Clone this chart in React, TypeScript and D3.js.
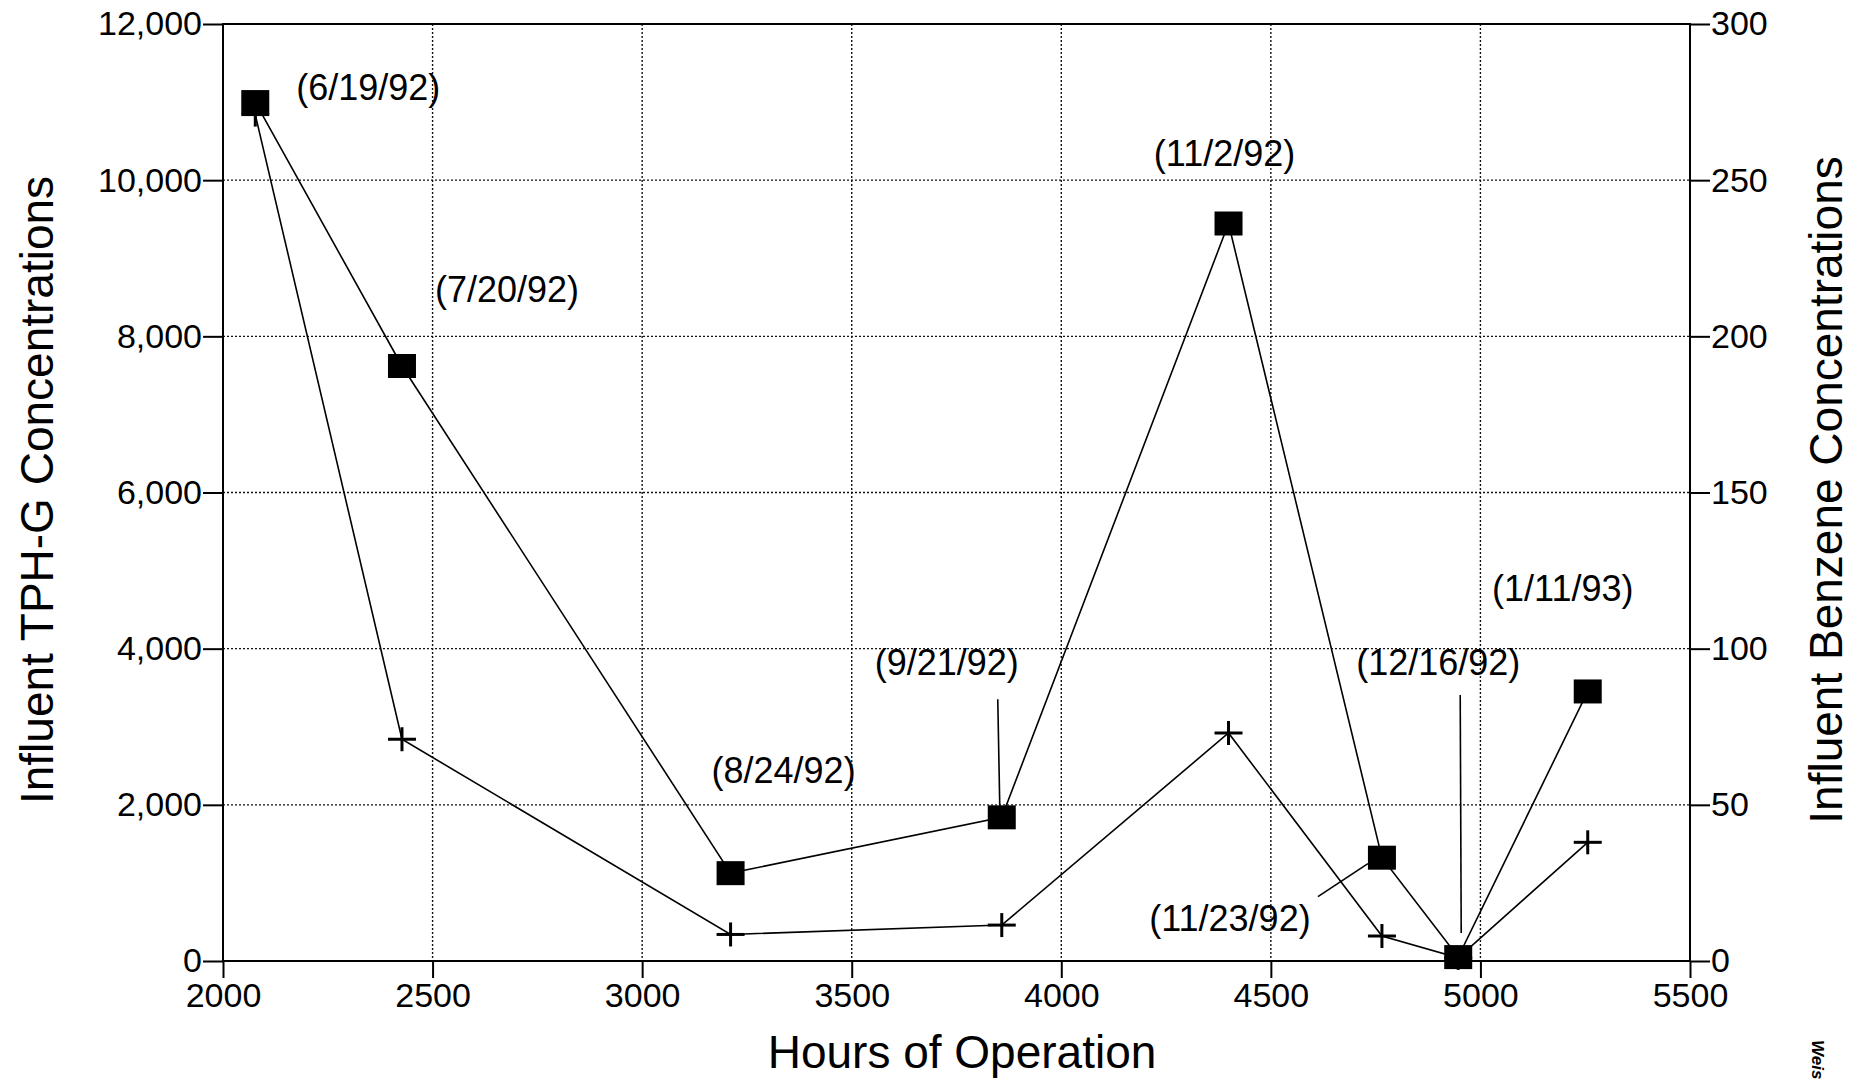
import { useEffect, useRef } from 'react';
import { select, scaleLinear, axisLeft, axisRight, axisBottom, format, line } from 'd3';

// sampling dates and hours of operation
const dates = ['(6/19/92)', '(7/20/92)', '(8/24/92)', '(9/21/92)', '(11/2/92)', '(11/23/92)', '(12/16/92)', '(1/11/93)'];
const hours = [2077, 2427, 3211, 3858, 4399, 4765, 4947, 5256];
// influent TPH-G (left axis, squares)
const tphG = [11000, 7620, 1125, 1840, 9445, 1323, 50, 3452];
// influent benzene (right axis, pluses)
const benzene = [271, 71, 8.5, 11.5, 73, 8, 1, 38];

const xTicks = [2000, 2500, 3000, 3500, 4000, 4500, 5000, 5500];
const leftTicks = [0, 2000, 4000, 6000, 8000, 10000, 12000];
const rightTicks = [0, 50, 100, 150, 200, 250, 300];

export default function App() {
  const ref = useRef<SVGSVGElement>(null);

  useEffect(() => {
    const W = 1863, H = 1082;
    const m = { left: 223, right: 173, top: 24, bottom: 121 };
    const FONT = '"Liberation Sans", Arial, Helvetica, sans-serif';

    const svg = select(ref.current);
    svg.selectAll('*').remove();

    const x = scaleLinear().domain([2000, 5500]).range([m.left, W - m.right]);
    const yL = scaleLinear().domain([0, 12000]).range([H - m.bottom, m.top]);
    const yR = scaleLinear().domain([0, 300]).range([H - m.bottom, m.top]);

    // dotted grid
    const grid = svg.append('g')
      .attr('stroke', '#111')
      .attr('stroke-width', 1.4)
      .attr('stroke-dasharray', '2 2');
    grid.append('g').selectAll('line')
      .data(xTicks.slice(1, -1))
      .join('line')
      .attr('x1', d => x(d)).attr('x2', d => x(d))
      .attr('y1', m.top).attr('y2', H - m.bottom);
    grid.append('g').selectAll('line')
      .data(leftTicks.slice(1, -1))
      .join('line')
      .attr('y1', d => yL(d)).attr('y2', d => yL(d))
      .attr('x1', m.left).attr('x2', W - m.right);

    // frame
    svg.append('rect')
      .attr('x', m.left).attr('y', m.top)
      .attr('width', W - m.left - m.right).attr('height', H - m.top - m.bottom)
      .attr('fill', 'none').attr('stroke', '#000').attr('stroke-width', 2);

    const styleAxis = (g: any) => {
      g.select('.domain').remove();
      g.attr('font-size', null).attr('font-family', null);
      g.selectAll('line').attr('stroke', '#000').attr('stroke-width', 2);
      g.selectAll('text').attr('fill', '#000').attr('font-size', 34).attr('font-family', FONT);
    };

    svg.append('g')
      .attr('transform', `translate(${m.left},0)`)
      .call(axisLeft(yL).tickValues(leftTicks).tickSize(20).tickPadding(1).tickFormat(format(',')))
      .call(styleAxis);
    svg.append('g')
      .attr('transform', `translate(${W - m.right},0)`)
      .call(axisRight(yR).tickValues(rightTicks).tickSize(20).tickPadding(1).tickFormat(format('d')))
      .call(styleAxis);
    svg.append('g')
      .attr('transform', `translate(0,${H - m.bottom})`)
      .call(axisBottom(x).tickValues(xTicks).tickSize(17).tickPadding(5).tickFormat(format('d')))
      .call(styleAxis);

    // axis titles
    svg.append('text')
      .attr('transform', `translate(53,490) rotate(-90)`)
      .attr('text-anchor', 'middle')
      .attr('font-family', FONT).attr('font-size', 46)
      .text('Influent TPH-G Concentrations');
    svg.append('text')
      .attr('transform', `translate(1842,490) rotate(-90)`)
      .attr('text-anchor', 'middle')
      .attr('font-family', FONT).attr('font-size', 46)
      .text('Influent Benzene Concentrations');
    svg.append('text')
      .attr('x', 962).attr('y', 1068)
      .attr('text-anchor', 'middle')
      .attr('font-family', FONT).attr('font-size', 46)
      .text('Hours of Operation');

    // series lines
    const tphLine = line<number>().x((d, i) => x(hours[i])).y(d => yL(d));
    const bzLine = line<number>().x((d, i) => x(hours[i])).y(d => yR(d));
    svg.append('path').attr('d', bzLine(benzene))
      .attr('fill', 'none').attr('stroke', '#000').attr('stroke-width', 1.6);
    svg.append('path').attr('d', tphLine(tphG))
      .attr('fill', 'none').attr('stroke', '#000').attr('stroke-width', 1.6);

    // plus markers (benzene)
    const pw = 14, ph = 12;
    const plus = svg.append('g').selectAll('g')
      .data(benzene)
      .join('g')
      .attr('transform', (d, i) => `translate(${x(hours[i])},${yR(d)})`)
      .attr('stroke', '#000').attr('stroke-width', 3);
    plus.append('line').attr('x1', -pw).attr('x2', pw);
    plus.append('line').attr('y1', -ph).attr('y2', ph);

    // square markers (TPH-G)
    svg.append('g').selectAll('rect')
      .data(tphG)
      .join('rect')
      .attr('x', (d, i) => x(hours[i]) - 14)
      .attr('y', d => yL(d) - 12)
      .attr('width', 28).attr('height', 24)
      .attr('fill', '#000');

    // date labels, placed relative to each sample
    const labelOffset = [[113, -2], [105, -64], [53, -90], [-55, -142], [-4, -58], [-152, 73], [-20, -282], [-25, -90]];
    svg.append('g').selectAll('text')
      .data(dates)
      .join('text')
      .attr('x', (d, i) => x(hours[i]) + labelOffset[i][0])
      .attr('y', (d, i) => yL(tphG[i]) + labelOffset[i][1])
      .attr('text-anchor', 'middle')
      .attr('font-family', FONT).attr('font-size', 36)
      .text(d => d);

    // leader lines: [sample index, x1, y1, x2, y2] relative to the sample
    const leaders = [[3, -4, -118, -2, -11], [5, -64, 39, -14, 6], [6, 2, -262, 3, -24]];
    svg.append('g').selectAll('line')
      .data(leaders)
      .join('line')
      .attr('x1', d => x(hours[d[0]]) + d[1])
      .attr('y1', d => yL(tphG[d[0]]) + d[2])
      .attr('x2', d => x(hours[d[0]]) + d[3])
      .attr('y2', d => yL(tphG[d[0]]) + d[4])
      .attr('stroke', '#000').attr('stroke-width', 1.6);

    // cut-off margin note
    svg.append('text')
      .attr('transform', 'translate(1812,1040) rotate(90)')
      .attr('font-family', FONT).attr('font-size', 17)
      .attr('font-style', 'italic').attr('font-weight', 'bold')
      .text('Weis');
  }, []);

  return (
    <svg ref={ref} width={1863} height={1082}
      style={{ position: 'absolute', left: 0, top: 0, background: '#fff' }} />
  );
}
